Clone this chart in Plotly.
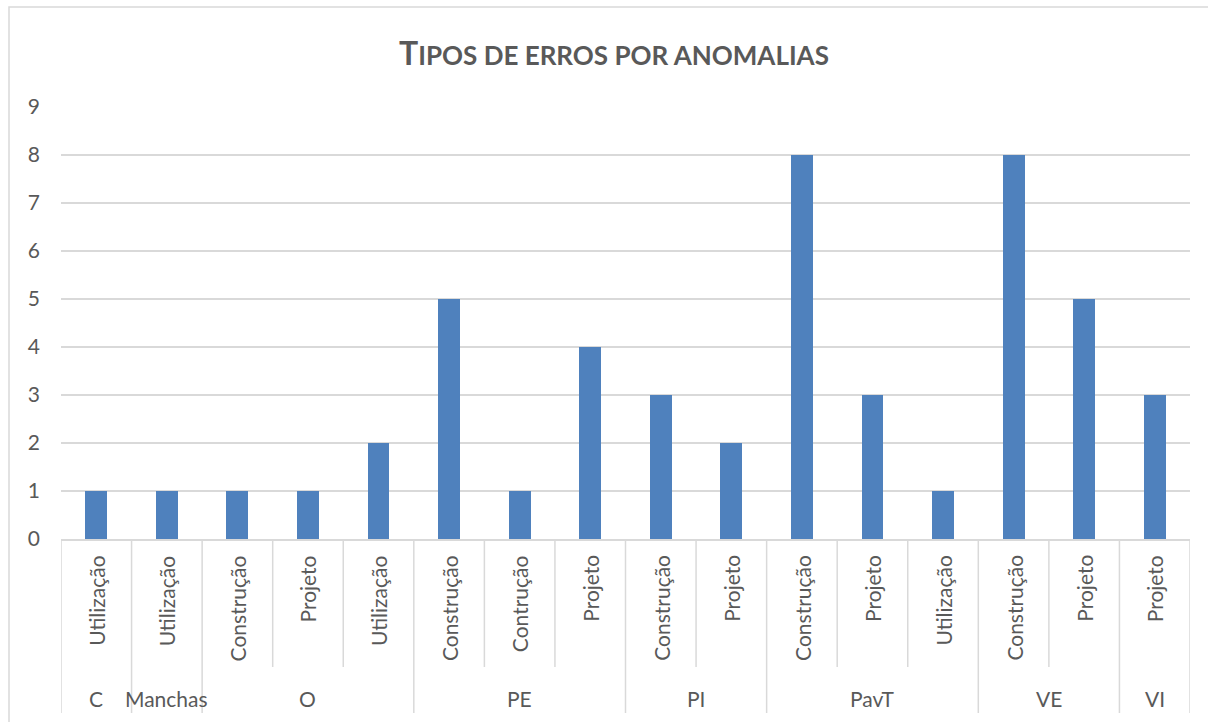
import plotly.graph_objects as go

# data
groups = ["C", "Manchas", "O", "O", "O", "PE", "PE", "PE", "PI", "PI",
          "PavT", "PavT", "PavT", "VE", "VE", "VI"]
types = ["Utilização", "Utilização", "Construção", "Projeto", "Utilização",
         "Construção", "Contrução", "Projeto", "Construção", "Projeto",
         "Construção", "Projeto", "Utilização", "Construção", "Projeto", "Projeto"]
values = [1, 1, 1, 1, 2, 5, 1, 4, 3, 2, 8, 3, 1, 8, 5, 3]

W, H = 1208, 722
ML, MR, MT, MB = 61, 18, 107, 183
PW, PH = W - ML - MR, H - MT - MB

FONT = "Lato, 'Open Sans', sans-serif"
GRAY = "#595959"
LINE = "#D9D9D9"
FS = 21

n = len(values)
xs = list(range(n))

fig = go.Figure(
    go.Bar(x=xs, y=values, width=0.31, marker=dict(color="#4F81BD", line=dict(width=0)),
           hoverinfo="y")
)

annotations = []
shapes = []

# inner category labels (rotated)
for i, t in enumerate(types):
    annotations.append(dict(x=i, y=0, xref="x", yref="paper", text=t, textangle=-90,
                            showarrow=False, xanchor="center", yanchor="top", yshift=-14,
                            font=dict(family=FONT, size=FS, color=GRAY)))

# group labels and dividers
spans = []
start = 0
for i in range(1, n + 1):
    if i == n or groups[i] != groups[start]:
        spans.append((groups[start], start, i - 1))
        start = i
for g, a, b in spans:
    annotations.append(dict(x=(a + b) / 2, y=0, xref="x", yref="paper", text=g,
                            showarrow=False, xanchor="center", yanchor="middle", yshift=-159,
                            font=dict(family=FONT, size=FS, color=GRAY)))

long_y = -174 / PH
short_y = -128 / PH
bounds_long = {-0.5} | {b + 0.5 for _, _, b in spans}
for k in range(n + 1):
    xb = k - 0.5
    y1 = long_y if xb in bounds_long else short_y
    shapes.append(dict(type="line", xref="x", yref="paper", x0=xb, x1=xb, y0=0, y1=y1,
                       line=dict(color=LINE, width=1.5)))

# outer chart border
shapes.append(dict(type="rect", xref="paper", yref="paper",
                   x0=(9 - ML) / PW, x1=(W + 10 - ML) / PW,
                   y0=(H - MB - (H + 10)) / PH, y1=(H - MB - 7) / PH,
                   line=dict(color=LINE, width=1.5), fillcolor="rgba(0,0,0,0)", layer="below"))

title_text = "<b>T<span style='font-size:26px'>IPOS DE ERROS POR ANOMALIAS</span></b>"

fig.update_layout(
    width=W, height=H,
    margin=dict(l=ML, r=MR, t=MT, b=MB),
    paper_bgcolor="white", plot_bgcolor="white",
    title=dict(text=title_text, x=614 / W, xanchor="center", xref="container",
               y=1 - 54 / H, yanchor="middle",
               font=dict(family=FONT, size=32, color=GRAY)),
    xaxis=dict(range=[-0.5, n - 0.5], showticklabels=False, showgrid=False, zeroline=False,
               showline=True, linecolor=LINE, linewidth=1.5, fixedrange=True),
    yaxis=dict(range=[0, 9], dtick=1, showgrid=True, gridcolor=LINE, gridwidth=1.5,
               zeroline=False, showline=False, ticklabelstandoff=20,
               tickfont=dict(family=FONT, size=FS, color=GRAY), fixedrange=True),
    showlegend=False,
    bargap=0,
    annotations=annotations,
    shapes=shapes,
)

fig.write_html("out.html", config={"displayModeBar": False},
               post_script="document.body.style.margin='0';")
